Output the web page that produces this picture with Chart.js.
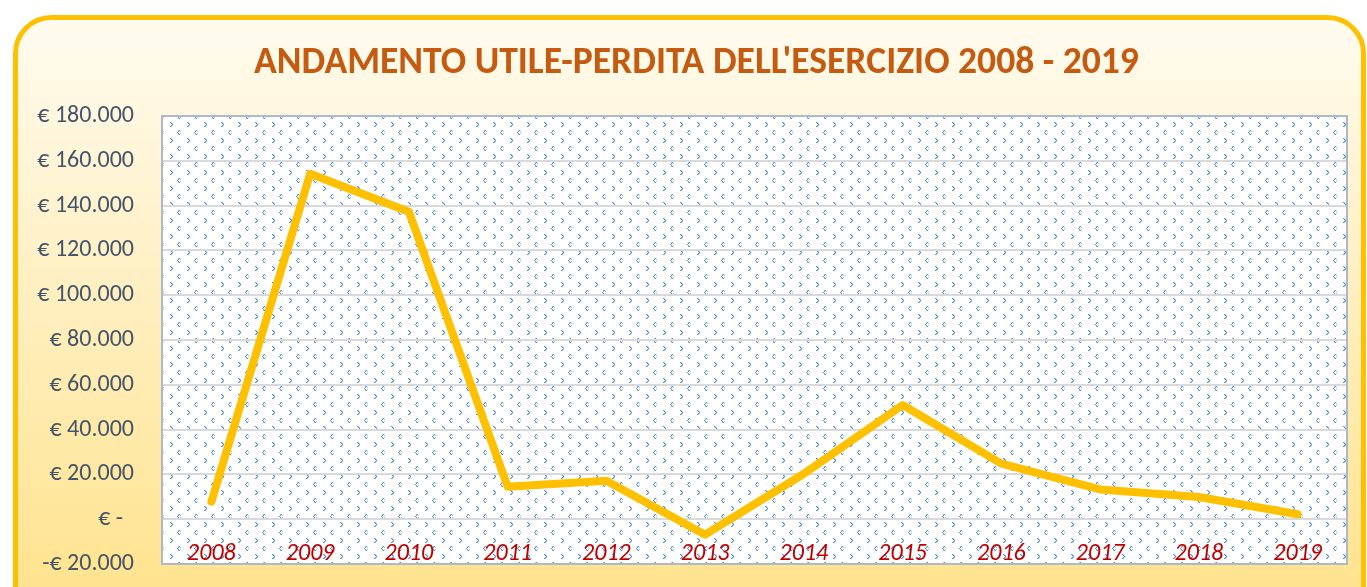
<!DOCTYPE html>
<html>
<head>
<meta charset="utf-8">
<script src="https://cdn.jsdelivr.net/npm/chart.js@4/dist/chart.umd.min.js"></script>
<style>
html,body{margin:0;padding:0;background:#ffffff;}
</style>
</head>
<body>
<canvas id="c" width="1367" height="587"></canvas>
<script>
const titleText = "ANDAMENTO UTILE-PERDITA DELL'ESERCIZIO 2008 - 2019";
const years = ["2008","2009","2010","2011","2012","2013","2014","2015","2016","2017","2018","2019"];
const utilePerdita = [7800, 154200, 137300, 14500, 17200, -6900, 20300, 51000, 24800, 13300, 9900, 2200];
const yMin = -20000;
const yMax = 180000;
const yStep = 20000;

function fmtEuro(v){
  if (v === 0) return "€ -  ";
  const abs = Math.abs(v).toString().replace(/\B(?=(\d{3})+(?!\d))/g, ".");
  return (v < 0 ? "-€ " : "€ ") + abs;
}

function makePattern(ctx){
  const p = document.createElement('canvas');
  p.width = 17; p.height = 16;
  const g = p.getContext('2d');
  g.fillStyle = '#ffffff';
  g.fillRect(0,0,17,16);
  g.fillStyle = '#4a8fd4';
  // "<" chevron
  g.fillRect(9,2,1,1); g.fillRect(8,3,1,1); g.fillRect(7,4,1,1); g.fillRect(8,5,1,1); g.fillRect(9,6,1,1);
  // ">" chevron
  g.fillRect(0,10,1,1); g.fillRect(1,11,1,1); g.fillRect(2,12,1,1); g.fillRect(1,13,1,1); g.fillRect(0,14,1,1);
  g.fillStyle = 'rgba(91,155,213,0.55)';
  g.fillRect(10,3,1,1); g.fillRect(10,5,1,1); g.fillRect(8,2,1,1); g.fillRect(8,6,1,1);
  g.fillRect(2,11,1,1); g.fillRect(2,13,1,1); g.fillRect(1,10,1,1); g.fillRect(1,14,1,1);
  return ctx.createPattern(p,'repeat');
}

const framePlugin = {
  id: 'frame',
  afterLayout(chart){
    const y = chart.scales.y;
    y.left = 0;
    y.width = y.right;
  },
  beforeDraw(chart){
    const ctx = chart.ctx;
    const W = chart.width, H = chart.height;
    ctx.save();
    ctx.fillStyle = '#ffffff';
    ctx.fillRect(0,0,W,H);
    const x = 15.5, y = 17.5, w = W - 15.5 - 3.5, h = H + 40, r = 36;
    const grad = ctx.createLinearGradient(0, y, 0, H);
    grad.addColorStop(0, '#fffbef');
    grad.addColorStop(1, '#ffe38f');
    ctx.beginPath();
    ctx.roundRect(x, y, w, h, r);
    ctx.fillStyle = grad;
    ctx.fill();
    ctx.lineWidth = 5;
    ctx.strokeStyle = '#ffc000';
    ctx.stroke();
    const a = chart.chartArea;
    ctx.fillStyle = makePattern(ctx);
    ctx.fillRect(a.left, a.top, a.right - a.left, a.bottom - a.top);
    ctx.restore();
  },
  afterDatasetsDraw(chart){
    const ctx = chart.ctx;
    const a = chart.chartArea;
    ctx.save();
    ctx.lineWidth = 2;
    ctx.strokeStyle = '#adb9ca';
    ctx.strokeRect(a.left, a.top, a.right - a.left, a.bottom - a.top);
    ctx.restore();
  }
};

new Chart(document.getElementById('c'), {
  type: 'line',
  data: {
    labels: years,
    datasets: [{
      data: utilePerdita,
      borderColor: '#ffc000',
      borderWidth: 8,
      borderCapStyle: 'round',
      borderJoinStyle: 'round',
      pointRadius: 0,
      tension: 0,
      fill: false
    }]
  },
  options: {
    responsive: false,
    animation: false,
    layout: { padding: { left: 46, right: 20, top: 0, bottom: 23 } },
    plugins: {
      legend: { display: false },
      tooltip: { enabled: false },
      title: {
        display: true,
        text: titleText,
        color: '#c55a11',
        font: { family: 'Carlito', size: 37.6, weight: 'bold', lineHeight: 1.2 },
        padding: { top: 40.6, bottom: 30.3 }
      }
    },
    scales: {
      x: {
        offset: true,
        grid: { display: false, drawTicks: false },
        border: { display: false },
        ticks: {
          color: '#c00000',
          font: { family: 'Carlito', size: 24, style: 'italic', lineHeight: 1.2 },
          padding: -4,
          mirror: true,
          maxRotation: 0,
          autoSkip: false
        },
        afterFit(scale){ scale.height = 0; scale.paddingTop = 0; scale.paddingBottom = 0; }
      },
      y: {
        min: yMin,
        max: yMax,
        grid: { color: '#d9d9d9', lineWidth: 2, drawTicks: false },
        border: { display: false },
        ticks: {
          stepSize: yStep,
          color: '#44546a',
          font: { family: 'Carlito', size: 24 },
          padding: 28,
          callback: (v) => fmtEuro(v)
        },
        afterFit(scale){ scale.width = 116; scale.paddingTop = 0; scale.paddingBottom = 0; }
      }
    }
  },
  plugins: [framePlugin]
});
</script>
</body>
</html>
